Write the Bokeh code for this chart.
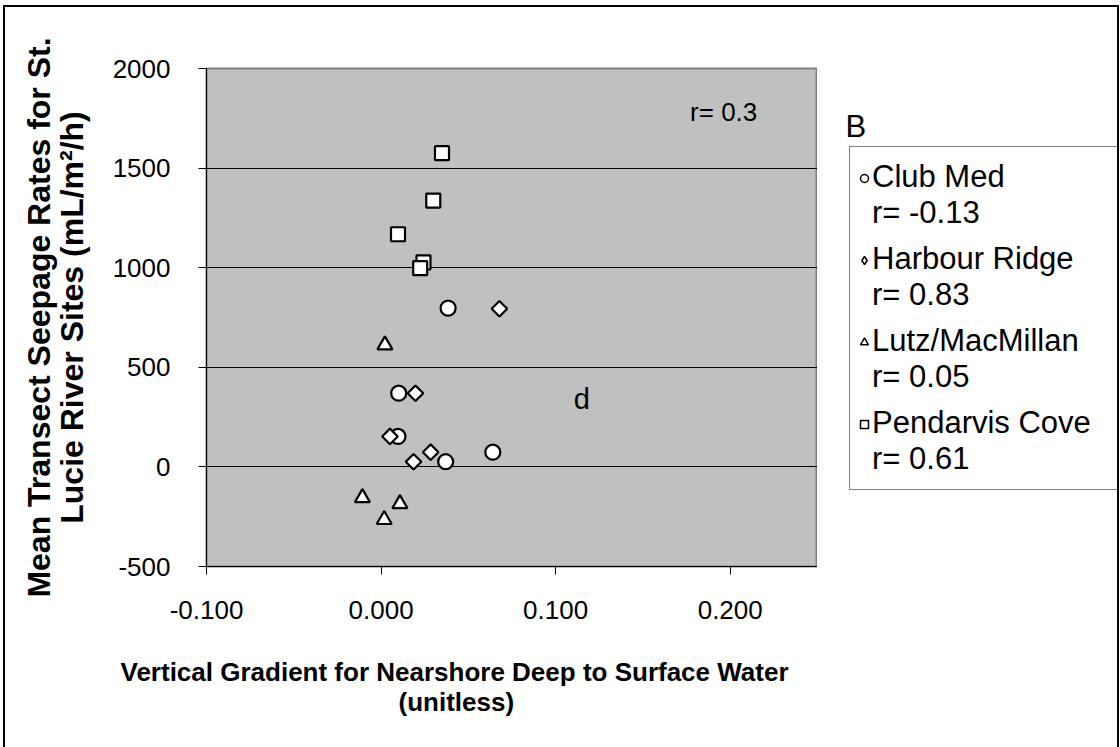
import math
from bokeh.plotting import figure
from bokeh.layouts import row
from bokeh.models import (Legend, LegendItem, Label, FixedTicker, Title,
                          NumeralTickFormatter)
from bokeh.embed import file_html
from bokeh.resources import INLINE

# ---- data ----
club_med_x = [0.0384, 0.0101, 0.0097, 0.0370, 0.0640]
club_med_y = [797, 370, 153, 26, 74]

harbour_x = [0.0678, 0.0197, 0.0051, 0.0284, 0.0186]
harbour_y = [794, 370, 153, 74, 26]

lutz_x = [0.0022, -0.0107, 0.0108, 0.0018]
lutz_y = [612, -155, -185, -265]

pendarvis_x = [0.0349, 0.0299, 0.0097, 0.0243, 0.0224]
pendarvis_y = [1575, 1337, 1168, 1027, 998]

series_names = ["Club Med\nr= -0.13", "Harbour Ridge\nr= 0.83",
                "Lutz/MacMillan\nr= 0.05", "Pendarvis Cove\nr= 0.61"]
markers = ["circle", "square", "triangle", "square"]
angles = [0.0, math.pi / 4, 0.0, 0.0]
legend_markers = ["circle", "diamond", "triangle", "square"]

x_ticks = [-0.1, 0.0, 0.1, 0.2]
y_ticks = [-500, 0, 500, 1000, 1500, 2000]
y_grid = [0, 500, 1000, 1500]

x_title_1 = "Vertical Gradient for Nearshore Deep to Surface Water"
x_title_2 = "(unitless)"
y_title = "Mean Transect Seepage Rates for St.\nLucie River Sites (mL/m\u00b2/h)"

FONT = "Liberation Sans"
H = 747

# ---------------- main plot ----------------
p = figure(width=817, height=H, x_range=(-0.1, 0.25), y_range=(-500, 2000),
           output_backend="svg", toolbar_location=None,
           min_border_left=206, min_border_right=0,
           min_border_top=68, min_border_bottom=181)
p.border_fill_color = "white"
p.background_fill_color = "#c0c0c0"
p.outline_line_color = "#808080"
p.outline_line_width = 2

p.xgrid.visible = False
p.ygrid.ticker = FixedTicker(ticks=y_grid)
p.ygrid.grid_line_color = "black"
p.ygrid.grid_line_width = 1

p.xaxis.ticker = FixedTicker(ticks=x_ticks)
p.yaxis.ticker = FixedTicker(ticks=y_ticks)
p.xaxis.formatter = NumeralTickFormatter(format="0.000")
p.yaxis.formatter = NumeralTickFormatter(format="0")
for ax in (p.xaxis, p.yaxis):
    ax.axis_line_color = "black"
    ax.major_tick_line_color = "black"
    ax.major_tick_out = 8
    ax.major_tick_in = 0
    ax.minor_tick_line_color = None
    ax.major_label_text_font = FONT
    ax.major_label_text_font_size = "26px"
    ax.major_label_text_color = "black"
p.xaxis.major_label_standoff = 26
p.yaxis.major_label_standoff = 28
# blank x-axis label only reserves space above the two-line title below
p.xaxis.axis_label = " "
p.xaxis.axis_label_text_font_size = "1px"
p.xaxis.axis_label_standoff = 29

p.yaxis.axis_label = y_title
p.yaxis.axis_label_text_font = FONT
p.yaxis.axis_label_text_font_size = "32px"
p.yaxis.axis_label_text_font_style = "bold"
p.yaxis.axis_label_text_color = "black"
p.yaxis.axis_label_text_line_height = 0.92
p.yaxis.axis_label_standoff = 20

# x-axis title: two left-aligned titles, offset so each line is centred at x~456
t1 = Title(text=x_title_1, align="left", offset=-86, text_font=FONT,
           text_font_size="26px", text_font_style="bold", text_color="black",
           text_line_height=1.0, standoff=0)
t2 = Title(text=x_title_2, align="left", offset=192, text_font=FONT,
           text_font_size="26px", text_font_style="bold", text_color="black",
           text_line_height=1.0, standoff=-4)
p.add_layout(t1, "below")
p.add_layout(t2, "below")

common = dict(fill_color="white", line_color="black", line_width=2.2)
sizes = [15, 11, 15, 14]
xs = [club_med_x, harbour_x, lutz_x, pendarvis_x]
ys = [club_med_y, harbour_y, lutz_y, pendarvis_y]
for xv, yv, m, a, s in zip(xs, ys, markers, angles, sizes):
    p.scatter(xv, yv, marker=m, angle=a, size=s, **common)

p.add_layout(Label(x=0.177, y=1780, text="r= 0.3", text_font=FONT,
                   text_font_size="26px", text_baseline="middle", text_color="black"))
p.add_layout(Label(x=0.115, y=340, text="d", text_font=FONT, text_align="center",
                   text_font_size="29px", text_baseline="middle", text_color="black"))

# ---------------- legend panel (frame aligned with the main plot frame) ----------------
q = figure(width=303, height=H, x_range=(0, 1), y_range=(0, 1),
           output_backend="svg", toolbar_location=None,
           x_axis_type=None, y_axis_type=None,
           min_border_left=0, min_border_right=0, min_border_top=68, min_border_bottom=181)
q.grid.visible = False
q.outline_line_color = None
q.background_fill_color = "white"
q.border_fill_color = "white"

# legend sample glyphs are taken from off-screen points of matching style
off_x, off_y = [-5.0], [-5.0]
hidden = q.scatter(x=off_x, y=off_y, size=0, fill_alpha=0, line_alpha=0)
leg_text = Legend(items=[LegendItem(label=n, renderers=[hidden]) for n in series_names],
                  location=(32, 76), margin=0,
                  label_text_font=FONT, label_text_font_size="31px",
                  label_text_line_height=1.13, label_text_color="black",
                  border_line_color="black", border_line_width=1,
                  background_fill_color="white", background_fill_alpha=1,
                  glyph_width=8, glyph_height=18, spacing=10, padding=12,
                  label_standoff=2, label_width=234)
q.add_layout(leg_text, "center")

glyph_rs = [q.scatter(x=off_x, y=off_y, marker=m, fill_color="white",
                      line_color="black", line_width=1.5)
            for m in legend_markers]
leg_marks = Legend(items=[LegendItem(label=" ", renderers=[r]) for r in glyph_rs],
                   location=(37, 132), margin=0,
                   label_text_font_size="1px", border_line_color=None,
                   background_fill_alpha=0, glyph_width=20, glyph_height=20,
                   spacing=62, padding=0, label_standoff=0)
q.add_layout(leg_marks, "center")

q.add_layout(Label(x=28, y=423, x_units="screen", y_units="screen", text="B",
                   text_font=FONT, text_font_size="31px", text_color="black"))

layout = row(p, q, spacing=0)
layout.stylesheets = [
    ":host { position: relative; }",
    ":host::after { content: ''; position: absolute; left: 3px; top: 5px; right: 1px;"
    " bottom: -10px; border: 2px solid black; pointer-events: none; z-index: 100; }",
]

open("out.html", "w").write(file_html(layout, INLINE))
